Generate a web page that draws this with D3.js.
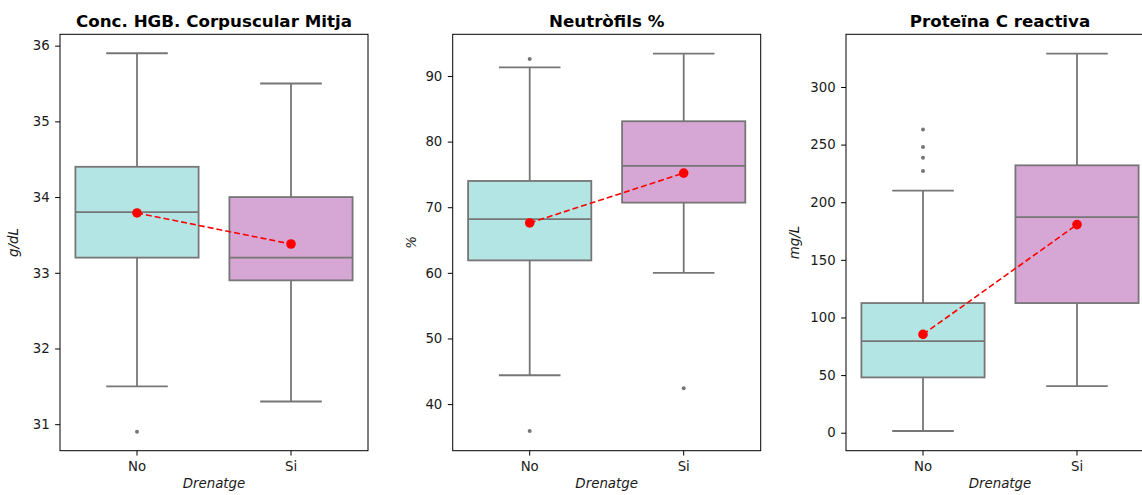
<!DOCTYPE html>
<html>
<head>
<meta charset="utf-8">
<script src="https://cdn.jsdelivr.net/npm/d3@7"></script>
<style>
  body { margin: 0; background: #fff; }
  svg { display: block; font-family: "DejaVu Sans", sans-serif; }
  .tick text { font-family: "DejaVu Sans", sans-serif; font-size: 13.3px; fill: #1a1a1a; }
  .tick line { stroke: #000; }
  .chart-title { font-size: 16.7px; font-weight: bold; }
  .axis-label { font-size: 13.4px; font-style: italic; fill: #1a1a1a; }
</style>
</head>
<body>
<svg id="chart" width="1142" height="495"></svg>
<script>
var categories = ["No", "Si"];
var box_colors = ["#b4e5e5", "#d6a6d4"];

// per group: [whisker low, q1, median, q3, whisker high]
var hgb_box = [[31.5, 33.2, 33.8, 34.4, 35.9], [31.3, 32.9, 33.2, 34.0, 35.5]];
var hgb_mean = [33.79, 33.38];
var hgb_outliers = [[30.9], []];
var hgb_ticks = [31, 32, 33, 34, 35, 36];

var neu_box = [[44.4, 61.9, 68.2, 74.0, 91.3], [60.0, 70.7, 76.3, 83.1, 93.4]];
var neu_mean = [67.6, 75.2];
var neu_outliers = [[92.6, 35.9], [42.4]];
var neu_ticks = [40, 50, 60, 70, 80, 90];

var pcr_box = [[1.5, 48, 79.5, 112.5, 210], [40.5, 112.5, 187, 232, 329]];
var pcr_mean = [85.3, 180.6];
var pcr_outliers = [[227, 238.5, 248, 263], []];
var pcr_ticks = [0, 50, 100, 150, 200, 250, 300];

var panels = [
    {title: "Conc. HGB. Corpuscular Mitja", unit: "g/dL", box: hgb_box, mean: hgb_mean, out: hgb_outliers, ticks: hgb_ticks, domain: [30.65, 36.15], left: 60, ylab: -42.5},
    {title: "Neutròfils %", unit: "%", box: neu_box, mean: neu_mean, out: neu_outliers, ticks: neu_ticks, domain: [32.9, 96.35], left: 452.7, ylab: -36.5},
    {title: "Proteïna C reactiva", unit: "mg/L", box: pcr_box, mean: pcr_mean, out: pcr_outliers, ticks: pcr_ticks, domain: [-15.6, 345.7], left: 846, ylab: -47}
];

var top_y = 34.3, bottom_y = 450.7, panel_w = 308;
var line_col = "#767676";
var svg = d3.select("#chart");

function drawPanel(p)
{
    var g = svg.append("g").attr("transform", "translate(" + p.left + ",0)");

    var x = d3.scaleBand().domain(categories).range([0, panel_w]).paddingInner(0.2).paddingOuter(0.1);
    var y = d3.scaleLinear().domain(p.domain).range([bottom_y, top_y]);
    var bw = x.bandwidth();

    categories.forEach(function (c, i) {
        var s = p.box[i];
        var cx = x(c) + bw / 2;
        var bg = g.append("g");
        // whiskers
        bg.append("line").attr("x1", cx).attr("x2", cx).attr("y1", y(s[0])).attr("y2", y(s[1]))
            .attr("stroke", line_col).attr("stroke-width", 1.8);
        bg.append("line").attr("x1", cx).attr("x2", cx).attr("y1", y(s[3])).attr("y2", y(s[4]))
            .attr("stroke", line_col).attr("stroke-width", 1.8);
        [s[0], s[4]].forEach(function (v) {
            bg.append("line").attr("x1", cx - bw / 4).attr("x2", cx + bw / 4).attr("y1", y(v)).attr("y2", y(v))
                .attr("stroke", line_col).attr("stroke-width", 1.8);
        });
        // box
        bg.append("rect").attr("x", x(c)).attr("width", bw).attr("y", y(s[3])).attr("height", y(s[1]) - y(s[3]))
            .attr("fill", box_colors[i]).attr("stroke", line_col).attr("stroke-width", 1.8);
        // median
        bg.append("line").attr("x1", x(c)).attr("x2", x(c) + bw).attr("y1", y(s[2])).attr("y2", y(s[2]))
            .attr("stroke", line_col).attr("stroke-width", 1.8);
        // outliers
        bg.selectAll("circle").data(p.out[i]).enter().append("circle")
            .attr("cx", cx).attr("cy", function (d) { return y(d); }).attr("r", 2)
            .attr("fill", line_col);
    });

    // mean line
    var line = d3.line().x(function (d, i) { return x(categories[i]) + bw / 2; }).y(function (d) { return y(d); });
    g.append("path").datum(p.mean).attr("d", line).attr("fill", "none")
        .attr("stroke", "#ff0000").attr("stroke-width", 1.6).attr("stroke-dasharray", "6,3");
    g.selectAll(".mean-dot").data(p.mean).enter().append("circle")
        .attr("class", "mean-dot")
        .attr("cx", function (d, i) { return x(categories[i]) + bw / 2; })
        .attr("cy", function (d) { return y(d); })
        .attr("r", 4.8).attr("fill", "#ff0000");

    // frame
    g.append("rect").attr("x", 0).attr("y", top_y).attr("width", panel_w).attr("height", bottom_y - top_y)
        .attr("fill", "none").attr("stroke", "#000").attr("stroke-width", 1);

    var ya = g.append("g").call(d3.axisLeft(y).tickValues(p.ticks).tickSize(4.9).tickPadding(5.5).tickFormat(d3.format("d")));
    ya.select(".domain").remove();
    var xa = g.append("g").attr("transform", "translate(0," + bottom_y + ")")
        .call(d3.axisBottom(x).tickSize(4.9).tickPadding(6));
    xa.select(".domain").remove();

    g.append("text").attr("class", "chart-title").attr("x", panel_w / 2).attr("y", 26.5)
        .attr("text-anchor", "middle").text(p.title);
    g.append("text").attr("class", "axis-label").attr("x", panel_w / 2).attr("y", 488)
        .attr("text-anchor", "middle").text("Drenatge");
    g.append("text").attr("class", "axis-label")
        .attr("transform", "translate(" + p.ylab + "," + ((top_y + bottom_y) / 2) + ") rotate(-90)")
        .attr("text-anchor", "middle").text(p.unit);
}

panels.forEach(drawPanel);
</script>
</body>
</html>
